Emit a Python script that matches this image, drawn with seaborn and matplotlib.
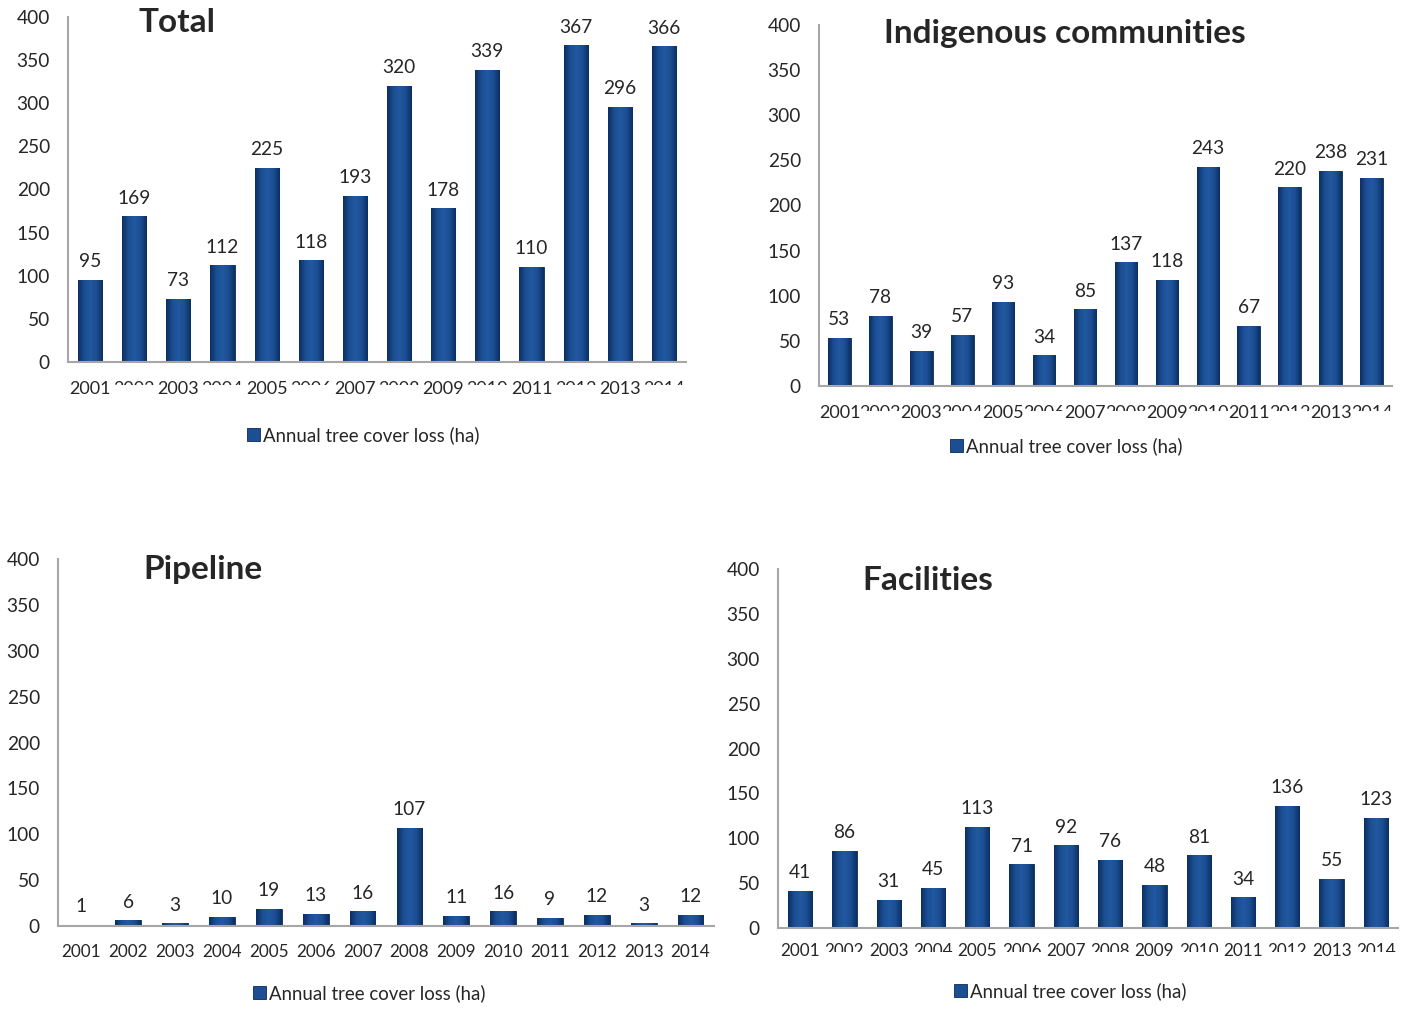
import numpy as np
import matplotlib.pyplot as plt
import seaborn as sns
from matplotlib.colors import LinearSegmentedColormap
from matplotlib.transforms import Bbox

years = [str(y) for y in range(2001, 2015)]
total = [95, 169, 73, 112, 225, 118, 193, 320, 178, 339, 110, 367, 296, 366]
indigenous = [53, 78, 39, 57, 93, 34, 85, 137, 118, 243, 67, 220, 238, 231]
pipeline = [1, 6, 3, 10, 19, 13, 16, 107, 11, 16, 9, 12, 3, 12]
facilities = [41, 86, 31, 45, 113, 71, 92, 76, 48, 81, 34, 136, 55, 123]

W, H = 1404, 1009
sns.set_style("white")
plt.rcParams["font.family"] = ["Lato", "DejaVu Sans"]

fig = plt.figure(figsize=(W / 100, H / 100), dpi=100)

bar_cmap = LinearSegmentedColormap.from_list("bar", ["#0B2F62", "#1B4E92", "#2258A0", "#1B4E92", "#0B2F62"])

# (titel, data, akse i piksler: venstre, høyre, topp(400), null, tittelpos, legendpos, fontstørrelse x, pad x, andel synlig av partall-etiketter)
panels = [
    ("Total", total, (68, 686, 17, 362), (177, 22), (363, 435), 13.0, 19, 0.25),
    ("Indigenous communities", indigenous, (819, 1392, 25, 386), (1065, 33), (1066, 446), 13.0, 19, 0.4),
    ("Pipeline", pipeline, (58, 714, 559, 926), (203, 569), (369, 993), 12.3, 18, 1.0),
    ("Facilities", facilities, (778, 1398, 569, 928), (928, 581), (1070, 991), 12.3, 15, 0.55),
]

axes = []
for title, values, (l, r, t, b), tpos, lpos, fs, xpad, visible in panels:
    ax = fig.add_axes([l / W, 1 - b / H, (r - l) / W, (b - t) / H])
    sns.barplot(x=years, y=values, ax=ax, color="#1B4E92", saturation=1, width=0.55,
                edgecolor="#0A2A58", linewidth=0.6, label="Annual tree cover loss (ha)")
    ax.set_xlabel("")
    ax.set_ylabel("")
    ax.set_yticks(range(0, 401, 50))
    sns.despine(ax=ax)
    for side in ["left", "bottom"]:
        ax.spines[side].set_color("#A6A6A6")
        ax.spines[side].set_linewidth(1.5)
    ax.tick_params(axis="x", length=0, pad=xpad / 1.389, labelsize=fs)
    ax.tick_params(axis="y", length=0, pad=13, labelsize=13.8)

    # Gradient i stolpene
    for patch in ax.patches:
        x0, y0 = patch.get_x(), patch.get_y()
        im = ax.imshow(np.linspace(0, 1, 64).reshape(1, -1), cmap=bar_cmap, aspect="auto",
                       extent=(x0, x0 + patch.get_width(), y0, y0 + patch.get_height()), zorder=patch.get_zorder())
        im.set_clip_path(patch)
    ax.set_xlim(-0.5, len(years) - 0.5)
    ax.set_ylim(0, 400)

    ax.bar_label(ax.containers[0], padding=7, fontsize=13.8)
    handles, labels = ax.get_legend_handles_labels()
    ax.legend(handles, labels, loc="center", bbox_to_anchor=(lpos[0] / W, 1 - lpos[1] / H),
              bbox_transform=fig.transFigure, frameon=False, fontsize=13.4,
              handlelength=0.7, handleheight=0.7, handletextpad=0.15)
    fig.text(tpos[0] / W, 1 - tpos[1] / H, title, ha="center", va="center", fontsize=24, fontweight="bold")
    axes.append((ax, visible))

# Partallsårene er delvis skjult i originalen (overlappende etiketter)
fig.canvas.draw()
for ax, visible in axes:
    if visible >= 1:
        continue
    for i, lab in enumerate(ax.get_xticklabels()):
        if i % 2 == 1:
            bb = lab.get_window_extent()
            cut = bb.y1 - visible * bb.height
            lab.set_clip_box(Bbox([[bb.x0 - 5, cut], [bb.x1 + 5, bb.y1 + 5]]))
            lab.set_clip_on(True)

fig.savefig("out.png", dpi=100)
